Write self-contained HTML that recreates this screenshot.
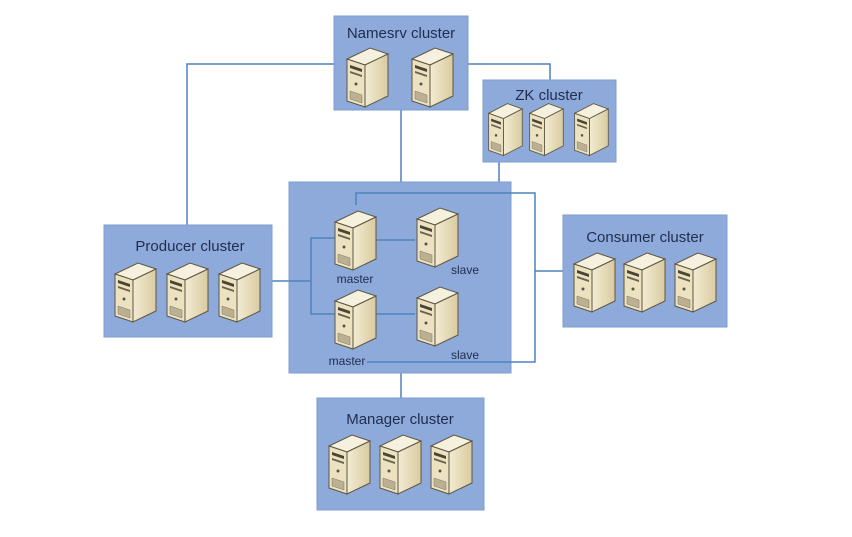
<!DOCTYPE html>
<html><head><style>
body{margin:0;background:#fff;width:852px;height:532px;overflow:hidden;font-family:"Liberation Sans",sans-serif}
</style></head><body>
<svg width="852" height="532" viewBox="0 0 852 532" xmlns="http://www.w3.org/2000/svg">
<defs>
<linearGradient id="sg" x1="0" y1="0" x2="1" y2="0"><stop offset="0" stop-color="#f3ecd3"/><stop offset="1" stop-color="#d9cba0"/></linearGradient>
<g id="srv">
<polygon points="2,14 25,3 43,9 20,20" fill="#f6f1de" stroke="#5e5640" stroke-width="1"/>
<polygon points="20,20 43,9 43,51 20,62" fill="url(#sg)" stroke="#5e5640" stroke-width="1"/>
<polygon points="2,14 20,20 20,62 2,56" fill="#ece2c0" stroke="#5e5640" stroke-width="1"/>
<polygon points="5,20 17,24 17,27 5,23" fill="#4a4535"/>
<polygon points="5,26 17,30 17,32 5,28" fill="#6a6350"/>
<circle cx="11" cy="39" r="1.5" fill="#555"/>
<polygon points="5,46 17,50 17,58 5,54" fill="#bdb090" stroke="#777" stroke-width="0.5"/>
</g>
</defs>
<g fill="none" stroke="#4f81bd" stroke-width="1.5">
<polyline points="187,225 187,64 334,64"/>
<polyline points="468,64 550,64 550,80"/>
<line x1="401" y1="110" x2="401" y2="182"/>
<line x1="499" y1="162" x2="499" y2="182"/>
<line x1="401" y1="373" x2="401" y2="398"/>
<line x1="535" y1="271" x2="563" y2="271"/>
<line x1="272" y1="281" x2="289" y2="281"/>
</g>
<rect x="334" y="16" width="134" height="94" fill="#8eaadb" stroke="#7f9ccf"/>
<rect x="483" y="80" width="133" height="82" fill="#8eaadb" stroke="#7f9ccf"/>
<rect x="289" y="182" width="222" height="191" fill="#8eaadb" stroke="#7f9ccf"/>
<rect x="104" y="225" width="168" height="112" fill="#8eaadb" stroke="#7f9ccf"/>
<rect x="563" y="215" width="164" height="112" fill="#8eaadb" stroke="#7f9ccf"/>
<rect x="317" y="398" width="167" height="112" fill="#8eaadb" stroke="#7f9ccf"/>
<g fill="none" stroke="#4f81bd" stroke-width="1.5">
<polyline points="289,281 311,281"/>
<polyline points="340,238 311,238 311,314 340,314"/>
<line x1="375" y1="240" x2="415" y2="240"/>
<line x1="375" y1="314" x2="415" y2="314"/>
<polyline points="356,205 356,193 535,193 535,362 367,362"/>
</g>
<use href="#srv" x="345" y="45"/><use href="#srv" x="410" y="45"/>
<use href="#srv" transform="translate(487,101) scale(0.82,0.88)"/>
<use href="#srv" transform="translate(528,101) scale(0.82,0.88)"/>
<use href="#srv" transform="translate(573,101) scale(0.82,0.88)"/>
<use href="#srv" x="113" y="260"/><use href="#srv" x="165" y="260"/><use href="#srv" x="217" y="260"/>
<use href="#srv" x="572" y="250"/><use href="#srv" x="622" y="250"/><use href="#srv" x="673" y="250"/>
<use href="#srv" x="327" y="432"/><use href="#srv" x="378" y="432"/><use href="#srv" x="429" y="432"/>
<use href="#srv" x="333" y="208"/><use href="#srv" x="415" y="205"/>
<use href="#srv" x="333" y="287"/><use href="#srv" x="415" y="284"/>
<g fill="#1f2d4e" font-family="Liberation Sans, sans-serif" text-anchor="middle">
<text x="401" y="38" font-size="15">Namesrv cluster</text>
<text x="549" y="100" font-size="15">ZK cluster</text>
<text x="190" y="251" font-size="15">Producer cluster</text>
<text x="645" y="242" font-size="15">Consumer cluster</text>
<text x="400" y="424" font-size="15">Manager cluster</text>
<text x="355" y="283" font-size="12">master</text>
<text x="465" y="274" font-size="12">slave</text>
<text x="347" y="365" font-size="12">master</text>
<text x="465" y="359" font-size="12">slave</text>
</g>
</svg>
</body></html>
